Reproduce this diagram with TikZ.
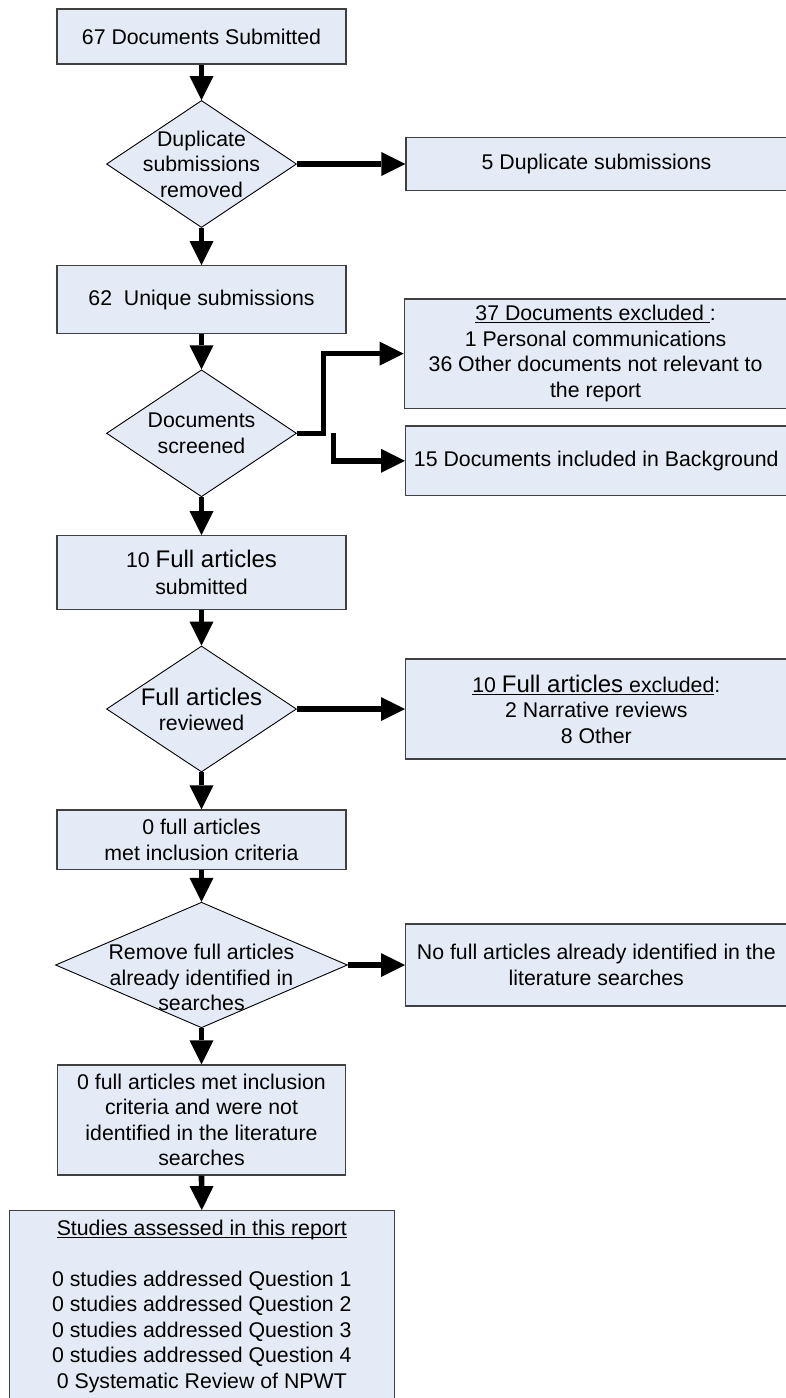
\documentclass[tikz,border=0pt]{standalone}
\usepackage{fontspec}
\setmainfont{Liberation Sans}
\usetikzlibrary{shapes.geometric,arrows.meta}
\definecolor{boxfill}{RGB}{229,235,246}
\definecolor{boxline}{RGB}{64,64,64}
% underline sitting just below the baseline, crossing descenders
\newcommand\ulin[1]{\setbox0\hbox{#1}\rlap{\rule[-2.6pt]{\wd0}{1.2pt}}\box0}
\newcommand\bigfs{\fontsize{24}{25.5}\selectfont}

\begin{document}
\begin{tikzpicture}[x=1pt,y=-1pt,
  box/.style={draw=boxline, line width=1.3pt, fill=boxfill, rectangle,
    inner sep=0pt, align=center, font=\fontsize{21.3}{25.5}\selectfont},
  dia/.style={draw=black, line width=0.9pt, fill=boxfill, diamond, inner sep=0pt},
  lbl/.style={align=center, inner sep=0pt, font=\fontsize{21.3}{25.5}\selectfont},
  arr/.style={line width=5.6pt, -{Triangle[length=24pt,width=24pt,line width=0pt]}}]
\useasboundingbox (0,0) rectangle (785,1398);
\fill[white] (0,0) rectangle (785,1398);

% main column
\node[box, minimum width=289pt, minimum height=55pt] (b1) at (201.5,36.5) {67 Documents Submitted};
\node[dia, minimum width=190pt, minimum height=127pt] (d1) at (201.5,164) {};
\node[lbl] (d1t) at (d1) {Duplicate\\submissions\\removed};
\node[box, minimum width=289pt, minimum height=67.5pt] (b2) at (201.5,299.5) {62\ \ Unique submissions};
\node[dia, minimum width=190pt, minimum height=127pt] (d2) at (201.5,433.3) {};
\node[lbl] (d2t) at (d2) {Documents\\screened};
\node[box, minimum width=289pt, minimum height=73.6pt] (b3) at (201.5,572.5) {10 {\bigfs Full articles}\\[2pt]submitted};
\node[dia, minimum width=190pt, minimum height=126pt] (d3) at (201.5,709) {};
\node[lbl] (d3t) at (201.5,709.5) {{\bigfs Full articles}\\reviewed};
\node[box, minimum width=289pt, minimum height=59.3pt] (b4) at (201.5,839.7) {0 full articles\\met inclusion criteria};
\node[dia, minimum width=292pt, minimum height=125.6pt] (d4) at (201.5,965) {};
\node[lbl] (d4t) at (201.5,977.7) {Remove full articles\\already identified in\\searches};
\node[box, minimum width=288pt, minimum height=110pt] (b5) at (201.5,1120) {0 full articles met inclusion\\criteria and were not\\identified in the literature\\searches};
\node[box, minimum width=385pt, minimum height=191.3pt] (b6) at (201.8,1306.4)
  {\ulin{Studies assessed in this report}\\[25.5pt]
   0 studies addressed Question 1\\
   0 studies addressed Question 2\\
   0 studies addressed Question 3\\
   0 studies addressed Question 4\\
   0 Systematic Review of NPWT};

% side boxes
\node[box, minimum width=381pt, minimum height=53pt] (x1) at (596.5,164) {5 Duplicate submissions};
\node[box, minimum width=382.7pt, minimum height=109.3pt] (x2) at (595.6,353.6)
  {\ulin{37 Documents excluded }:\\1 Personal communications\\36 Other documents not relevant to\\the report};
\node[box, minimum width=381.3pt, minimum height=69.7pt] (x3) at (596.3,460.8) {15 Documents included in Background};
\node[box, minimum width=381.3pt, minimum height=100pt] (x4) at (596.3,709)
  {\ulin{10 {\bigfs Full articles} excluded}:\\2 Narrative reviews\\8 Other};
\node[box, minimum width=381.3pt, minimum height=82pt] (x5) at (596.3,965)
  {No full articles already identified in the\\literature searches};

% second branch leaving the screening step
\coordinate (br) at (333.5,433.3);

% connectors
\draw[arr] (b1.south) -- (d1.north);
\draw[arr] (d1.east) -- (x1.west);
\draw[arr] (d1.south) -- (b2.north);
\draw[arr] (b2.south) -- (d2.north);
\draw[arr] (d2.east) -- ++(26.5,0) |- (x2.west);
\draw[arr] (br) |- (x3.west);
\draw[arr] (d2.south) -- (b3.north);
\draw[arr] (b3.south) -- (d3.north);
\draw[arr] (d3.east) -- (x4.west);
\draw[arr] (d3.south) -- (b4.north);
\draw[arr] (b4.south) -- (d4.north);
\draw[arr] (d4.east) -- (x5.west);
\draw[arr] (d4.south) -- (b5.north);
\draw[arr] (b5.south) -- (b6.north);
\end{tikzpicture}
\end{document}
